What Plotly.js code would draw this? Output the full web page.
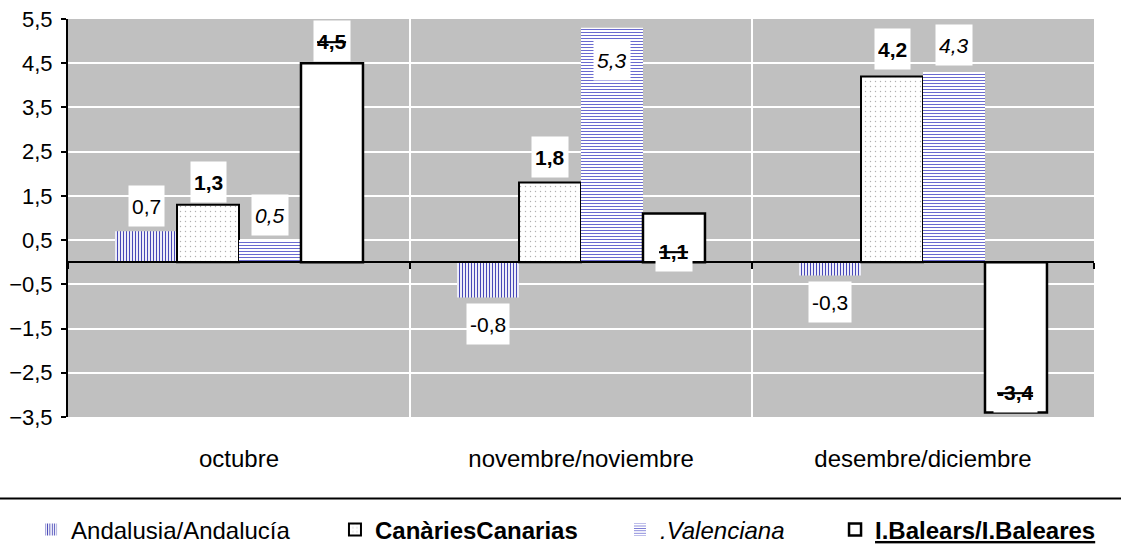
<!DOCTYPE html>
<html>
<head>
<meta charset="utf-8">
<script src="https://cdn.plot.ly/plotly-3.0.1.min.js"></script>
<style>html,body{margin:0;padding:0;background:#fff;}#chart{width:1121px;height:553px;}</style>
</head>
<body>
<div id="chart"></div>
<script>
// ---- data ----
const categories = ['octubre', 'novembre/noviembre', 'desembre/diciembre'];
const andalucia  = [0.7, -0.8, -0.3];
const canarias   = [1.3, 1.8, 4.2];
const valenciana = [0.5, 5.3, 4.3];
const baleares   = [4.5, 1.1, -3.4];
const seriesNames = ['Andalusia/Andalucía', '<b>CanàriesCanarias</b>', '<i>.Valenciana</i>', '<b><u>I.Balears/I.Baleares</u></b>'];
const yTickVals = [-3.5, -2.5, -1.5, -0.5, 0.5, 1.5, 2.5, 3.5, 4.5, 5.5];

// ---- style ----
const FONT = 'Liberation Sans, Arial, sans-serif';
const yRange = [-3.5, 5.5];
const bargap = 0.275;
const seriesValues = [andalucia, canarias, valenciana, baleares];
// label placement: pixel distance of label centre outward from bar end (negative = inside); 'base' = from zero line
const labelShift = [
  [{m:'end', px:25}, {m:'end', px:26}, {m:'end', px:27}],
  [{m:'end', px:23}, {m:'end', px:26}, {m:'end', px:27}],
  [{m:'end', px:25}, {m:'end', px:-32}, {m:'end', px:27}],
  [{m:'end', px:22}, {m:'base', px:11}, {m:'end', px:-21}]
];
const labelWrap = [t => t, t => '<b>' + t + '</b>', t => '<i>' + t + '</i>', t => '<b><s>' + t + '</s></b>'];

const markers = [
  {color: '#ffffff', pattern: {shape: '|', fgcolor: '#4848b8', bgcolor: '#ffffff', size: 3, solidity: 0.4}, line: {width: 0}},
  {color: '#ffffff', pattern: {shape: '.', fgcolor: '#b0b0b0', bgcolor: '#ffffff', size: 5, solidity: 0.06}, line: {width: 2, color: '#000'}},
  {color: '#ffffff', pattern: {shape: '-', fgcolor: '#6a6ad0', bgcolor: '#ffffff', size: 3, solidity: 0.34}, line: {width: 0}},
  {color: '#ffffff', line: {width: 2.5, color: '#000'}}
];
const legendIds = ['legend', 'legend2', 'legend3', 'legend4'];
const legendX = [-0.036, 0.2602, 0.538, 0.7476];

const traces = seriesValues.map((vals, i) => ({
  type: 'bar', x: categories, y: vals, name: seriesNames[i],
  marker: markers[i], legend: legendIds[i], hoverinfo: 'skip'
}));
// invisible trace for the crossing axis at zero
traces.push({type: 'scatter', x: [-0.5], y: [0], xaxis: 'x2', mode: 'markers', marker: {opacity: 0}, showlegend: false, hoverinfo: 'skip'});

const barW = (1 - bargap) / seriesValues.length;
const annotations = [];
seriesValues.forEach((vals, i) => {
  vals.forEach((v, j) => {
    const s = labelShift[i][j];
    const sign = v >= 0 ? 1 : -1;
    annotations.push({
      x: j + (i - (seriesValues.length - 1) / 2) * barW, xref: 'x',
      y: s.m === 'base' ? 0 : v, yref: 'y',
      yshift: s.m === 'base' ? s.px : sign * s.px,
      text: labelWrap[i](v.toFixed(1).replace('.', ',')),
      showarrow: false, bgcolor: '#ffffff', borderpad: 3, height: 34,
      font: {family: FONT, size: 21, color: '#000'}
    });
  });
});

const legendCommon = {orientation: 'h', yref: 'container', yanchor: 'middle', y: (553 - 530) / 553, xanchor: 'left',
  bgcolor: 'rgba(0,0,0,0)', font: {family: FONT, size: 24, color: '#000'}, itemclick: false, itemdoubleclick: false};

const layout = {
  width: 1121, height: 553,
  margin: {l: 68, r: 27, t: 19, b: 136},
  paper_bgcolor: '#ffffff', plot_bgcolor: '#c0c0c0',
  separators: ',.',
  font: {family: FONT, size: 22, color: '#000'},
  barmode: 'group', bargap: bargap, bargroupgap: 0,
  xaxis: {type: 'category', tickson: 'boundaries', ticks: '', showgrid: true, gridcolor: '#ffffff', gridwidth: 2,
          showline: false, zeroline: false, ticklabelstandoff: 25, tickfont: {family: FONT, size: 24, color: '#000'}},
  xaxis2: {overlaying: 'x', anchor: 'free', position: (0 - yRange[0]) / (yRange[1] - yRange[0]), range: [-0.5, 2.5],
           tickvals: [-0.5, 0.5, 1.5, 2.5], ticks: 'outside', ticklen: 6, tickwidth: 2, tickcolor: '#000',
           showticklabels: false, showline: true, linewidth: 2, linecolor: '#000', showgrid: false, zeroline: false, fixedrange: true},
  yaxis: {range: yRange, tickvals: yTickVals, tickformat: '.1f', ticks: 'outside', ticklen: 5, tickwidth: 2, tickcolor: '#000',
          showline: true, linewidth: 2, linecolor: '#000', showgrid: true, gridcolor: '#ffffff', gridwidth: 2,
          zeroline: false, ticklabelstandoff: 4, tickfont: {family: FONT, size: 22, color: '#000'}},
  showlegend: true,
  legend: Object.assign({}, legendCommon, {x: legendX[0]}),
  legend2: Object.assign({}, legendCommon, {x: legendX[1]}),
  legend3: Object.assign({}, legendCommon, {x: legendX[2]}),
  legend4: Object.assign({}, legendCommon, {x: legendX[3]}),
  shapes: [{type: 'line', xref: 'paper', yref: 'paper', x0: -0.1, x1: 1.1, y0: -0.205, y1: -0.205, line: {color: '#000', width: 2}}],
  annotations: annotations
};

Plotly.newPlot('chart', traces, layout, {displayModeBar: false, staticPlot: true});
</script>
</body>
</html>
